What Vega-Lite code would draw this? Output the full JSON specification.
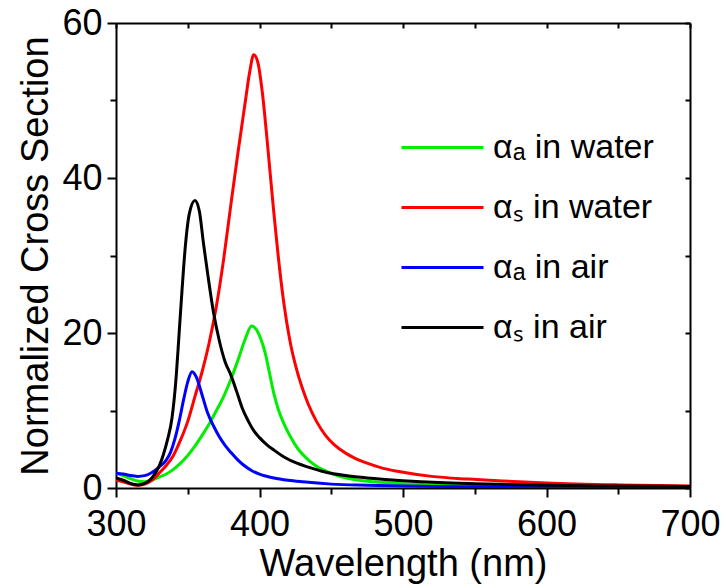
{
  "$schema": "https://vega.github.io/schema/vega-lite/v6.json",
  "width": 574,
  "height": 465,
  "autosize": "none",
  "padding": {"left": 116, "top": 23, "right": 35, "bottom": 100},
  "background": "white",
  "config": {
    "view": {"stroke": null},
    "font": "Liberation Sans",
    "axis": {"domainColor": "black", "domainWidth": 2, "tickColor": "black", "tickWidth": 2, "labelColor": "black", "titleColor": "black", "grid": false, "labelFont": "Liberation Sans", "titleFont": "Liberation Sans", "titleFontWeight": "normal"}
  },
  "datasets": {
    "curves": [
      {"wl":300,"v":1.9,"s":"αₐ in water"},{"wl":305,"v":1.6,"s":"αₐ in water"},{"wl":310,"v":1.2,"s":"αₐ in water"},{"wl":315,"v":0.9,"s":"αₐ in water"},{"wl":320,"v":0.8,"s":"αₐ in water"},{"wl":325,"v":1.0,"s":"αₐ in water"},{"wl":330,"v":1.4,"s":"αₐ in water"},{"wl":335,"v":1.8,"s":"αₐ in water"},{"wl":340,"v":2.4,"s":"αₐ in water"},{"wl":345,"v":3.2,"s":"αₐ in water"},{"wl":350,"v":4.2,"s":"αₐ in water"},{"wl":355,"v":5.4,"s":"αₐ in water"},{"wl":360,"v":6.8,"s":"αₐ in water"},{"wl":365,"v":8.3,"s":"αₐ in water"},{"wl":370,"v":10.0,"s":"αₐ in water"},{"wl":375,"v":11.8,"s":"αₐ in water"},{"wl":380,"v":14.0,"s":"αₐ in water"},{"wl":385,"v":16.5,"s":"αₐ in water"},{"wl":390,"v":19.2,"s":"αₐ in water"},{"wl":394.5,"v":20.9,"s":"αₐ in water"},{"wl":398,"v":20.4,"s":"αₐ in water"},{"wl":401,"v":19.2,"s":"αₐ in water"},{"wl":404,"v":17.4,"s":"αₐ in water"},{"wl":407,"v":14.8,"s":"αₐ in water"},{"wl":410,"v":12.2,"s":"αₐ in water"},{"wl":413,"v":10.2,"s":"αₐ in water"},{"wl":417,"v":8.3,"s":"αₐ in water"},{"wl":421,"v":6.8,"s":"αₐ in water"},{"wl":427,"v":5.0,"s":"αₐ in water"},{"wl":433,"v":3.8,"s":"αₐ in water"},{"wl":439,"v":2.9,"s":"αₐ in water"},{"wl":450,"v":1.9,"s":"αₐ in water"},{"wl":466,"v":1.1,"s":"αₐ in water"},{"wl":480,"v":0.8,"s":"αₐ in water"},{"wl":500,"v":0.55,"s":"αₐ in water"},{"wl":525,"v":0.35,"s":"αₐ in water"},{"wl":550,"v":0.25,"s":"αₐ in water"},{"wl":600,"v":0.15,"s":"αₐ in water"},{"wl":650,"v":0.1,"s":"αₐ in water"},{"wl":700,"v":0.08,"s":"αₐ in water"},

      {"wl":300,"v":1.0,"s":"αₛ in water"},{"wl":305,"v":0.8,"s":"αₛ in water"},{"wl":310,"v":0.5,"s":"αₛ in water"},{"wl":315,"v":0.35,"s":"αₛ in water"},{"wl":320,"v":0.5,"s":"αₛ in water"},{"wl":325,"v":1.0,"s":"αₛ in water"},{"wl":330,"v":1.9,"s":"αₛ in water"},{"wl":335,"v":2.9,"s":"αₛ in water"},{"wl":340,"v":4.2,"s":"αₛ in water"},{"wl":345,"v":6.2,"s":"αₛ in water"},{"wl":350,"v":8.6,"s":"αₛ in water"},{"wl":355,"v":11.8,"s":"αₛ in water"},{"wl":360,"v":15.0,"s":"αₛ in water"},{"wl":365,"v":18.8,"s":"αₛ in water"},{"wl":370,"v":23.5,"s":"αₛ in water"},{"wl":375,"v":29.5,"s":"αₛ in water"},{"wl":380,"v":36.5,"s":"αₛ in water"},{"wl":385,"v":43.3,"s":"αₛ in water"},{"wl":390,"v":49.7,"s":"αₛ in water"},{"wl":393,"v":53.5,"s":"αₛ in water"},{"wl":396,"v":55.9,"s":"αₛ in water"},{"wl":399,"v":54.8,"s":"αₛ in water"},{"wl":402,"v":51.0,"s":"αₛ in water"},{"wl":406,"v":43.5,"s":"αₛ in water"},{"wl":410,"v":35.5,"s":"αₛ in water"},{"wl":413,"v":30.0,"s":"αₛ in water"},{"wl":417,"v":23.8,"s":"αₛ in water"},{"wl":421,"v":19.2,"s":"αₛ in water"},{"wl":426,"v":15.2,"s":"αₛ in water"},{"wl":430,"v":12.8,"s":"αₛ in water"},{"wl":434,"v":10.8,"s":"αₛ in water"},{"wl":440,"v":8.5,"s":"αₛ in water"},{"wl":446,"v":6.8,"s":"αₛ in water"},{"wl":452,"v":5.6,"s":"αₛ in water"},{"wl":460,"v":4.5,"s":"αₛ in water"},{"wl":467,"v":3.8,"s":"αₛ in water"},{"wl":475,"v":3.2,"s":"αₛ in water"},{"wl":485,"v":2.6,"s":"αₛ in water"},{"wl":498,"v":2.1,"s":"αₛ in water"},{"wl":520,"v":1.5,"s":"αₛ in water"},{"wl":545,"v":1.15,"s":"αₛ in water"},{"wl":570,"v":0.9,"s":"αₛ in water"},{"wl":600,"v":0.65,"s":"αₛ in water"},{"wl":650,"v":0.4,"s":"αₛ in water"},{"wl":700,"v":0.25,"s":"αₛ in water"},

      {"wl":300,"v":1.9,"s":"αₐ in air"},{"wl":305,"v":1.8,"s":"αₐ in air"},{"wl":310,"v":1.6,"s":"αₐ in air"},{"wl":315,"v":1.5,"s":"αₐ in air"},{"wl":320,"v":1.6,"s":"αₐ in air"},{"wl":325,"v":2.0,"s":"αₐ in air"},{"wl":330,"v":2.7,"s":"αₐ in air"},{"wl":335,"v":3.6,"s":"αₐ in air"},{"wl":338,"v":4.6,"s":"αₐ in air"},{"wl":341,"v":6.3,"s":"αₐ in air"},{"wl":344,"v":8.6,"s":"αₐ in air"},{"wl":347,"v":11.3,"s":"αₐ in air"},{"wl":350,"v":13.7,"s":"αₐ in air"},{"wl":353,"v":15.0,"s":"αₐ in air"},{"wl":356,"v":14.3,"s":"αₐ in air"},{"wl":360,"v":12.0,"s":"αₐ in air"},{"wl":364,"v":9.6,"s":"αₐ in air"},{"wl":368,"v":8.0,"s":"αₐ in air"},{"wl":372,"v":6.6,"s":"αₐ in air"},{"wl":376,"v":5.5,"s":"αₐ in air"},{"wl":380,"v":4.6,"s":"αₐ in air"},{"wl":385,"v":3.6,"s":"αₐ in air"},{"wl":390,"v":2.8,"s":"αₐ in air"},{"wl":395,"v":2.2,"s":"αₐ in air"},{"wl":400,"v":1.8,"s":"αₐ in air"},{"wl":410,"v":1.3,"s":"αₐ in air"},{"wl":420,"v":1.0,"s":"αₐ in air"},{"wl":430,"v":0.8,"s":"αₐ in air"},{"wl":450,"v":0.5,"s":"αₐ in air"},{"wl":475,"v":0.35,"s":"αₐ in air"},{"wl":500,"v":0.25,"s":"αₐ in air"},{"wl":550,"v":0.15,"s":"αₐ in air"},{"wl":600,"v":0.1,"s":"αₐ in air"},{"wl":700,"v":0.05,"s":"αₐ in air"},

      {"wl":300,"v":1.3,"s":"\u2002αₛ in air"},{"wl":305,"v":1.0,"s":"\u2002αₛ in air"},{"wl":310,"v":0.6,"s":"\u2002αₛ in air"},{"wl":315,"v":0.4,"s":"\u2002αₛ in air"},{"wl":320,"v":0.6,"s":"\u2002αₛ in air"},{"wl":325,"v":1.3,"s":"\u2002αₛ in air"},{"wl":330,"v":2.8,"s":"\u2002αₛ in air"},{"wl":333,"v":4.3,"s":"\u2002αₛ in air"},{"wl":336,"v":6.3,"s":"\u2002αₛ in air"},{"wl":339,"v":9.0,"s":"\u2002αₛ in air"},{"wl":342,"v":14.5,"s":"\u2002αₛ in air"},{"wl":344,"v":20.0,"s":"\u2002αₛ in air"},{"wl":346,"v":25.5,"s":"\u2002αₛ in air"},{"wl":348,"v":30.5,"s":"\u2002αₛ in air"},{"wl":351,"v":35.3,"s":"\u2002αₛ in air"},{"wl":355,"v":37.1,"s":"\u2002αₛ in air"},{"wl":358,"v":35.8,"s":"\u2002αₛ in air"},{"wl":361,"v":31.5,"s":"\u2002αₛ in air"},{"wl":364,"v":27.5,"s":"\u2002αₛ in air"},{"wl":368,"v":22.6,"s":"\u2002αₛ in air"},{"wl":372,"v":19.0,"s":"\u2002αₛ in air"},{"wl":376,"v":16.3,"s":"\u2002αₛ in air"},{"wl":380,"v":14.6,"s":"\u2002αₛ in air"},{"wl":384,"v":12.5,"s":"\u2002αₛ in air"},{"wl":388,"v":10.3,"s":"\u2002αₛ in air"},{"wl":392,"v":8.7,"s":"\u2002αₛ in air"},{"wl":396,"v":7.4,"s":"\u2002αₛ in air"},{"wl":400,"v":6.5,"s":"\u2002αₛ in air"},{"wl":405,"v":5.6,"s":"\u2002αₛ in air"},{"wl":410,"v":4.9,"s":"\u2002αₛ in air"},{"wl":418,"v":3.9,"s":"\u2002αₛ in air"},{"wl":426,"v":3.2,"s":"\u2002αₛ in air"},{"wl":434,"v":2.7,"s":"\u2002αₛ in air"},{"wl":445,"v":2.1,"s":"\u2002αₛ in air"},{"wl":460,"v":1.6,"s":"\u2002αₛ in air"},{"wl":475,"v":1.3,"s":"\u2002αₛ in air"},{"wl":500,"v":0.95,"s":"\u2002αₛ in air"},{"wl":525,"v":0.7,"s":"\u2002αₛ in air"},{"wl":550,"v":0.55,"s":"\u2002αₛ in air"},{"wl":600,"v":0.35,"s":"\u2002αₛ in air"},{"wl":650,"v":0.25,"s":"\u2002αₛ in air"},{"wl":700,"v":0.2,"s":"\u2002αₛ in air"}
    ]
  },
  "data": {"name": "curves"},
  "layer": [
    {
      "mark": {"type": "line", "strokeWidth": 3, "interpolate": "monotone", "clip": true},
      "encoding": {
        "x": {
          "field": "wl", "type": "quantitative",
          "scale": {"domain": [300, 700], "nice": false, "zero": false},
          "axis": {
            "orient": "bottom", "title": "Wavelength (nm)", "titleFontSize": 38, "titlePadding": 3,
            "values": [300, 350, 400, 450, 500, 550, 600, 650, 700],
            "labelExpr": "datum.value % 100 === 0 ? datum.label : ''",
            "labelFontSize": 36, "labelPadding": 10, "labelFlush": false,
            "tickSize": {"condition": {"test": "datum.value % 100 === 0", "value": 9}, "value": 6}
          }
        },
        "y": {
          "field": "v", "type": "quantitative",
          "scale": {"domain": [0, 60], "nice": false},
          "axis": {
            "orient": "left", "title": "Normalized Cross Section", "titleFontSize": 38, "titlePadding": 6,
            "values": [0, 10, 20, 30, 40, 50, 60],
            "labelExpr": "datum.value % 20 === 0 ? datum.label : ''",
            "labelFontSize": 36, "labelPadding": 5, "labelFlush": false,
            "tickSize": {"condition": {"test": "datum.value % 20 === 0", "value": 9}, "value": 6}
          }
        },
        "color": {
          "field": "s", "type": "nominal",
          "scale": {"domain": ["αₐ in water", "αₛ in water", "αₐ in air", "\u2002αₛ in air"], "range": ["#00ee00", "#ff0000", "#0000ff", "#000000"]},
          "legend": {
            "title": null, "orient": "none", "legendX": 284, "legendY": 82, "padding": 0,
            "symbolType": "stroke", "symbolSize": 6724, "symbolStrokeWidth": 3,
            "labelFontSize": 34, "labelFont": "Liberation Sans", "labelColor": "black", "labelOffset": 8,
            "rowPadding": -5.5, "labelLimit": 400
          }
        }
      }
    },
    {
      "mark": {"type": "line", "opacity": 0},
      "encoding": {
        "x": {
          "field": "wl", "type": "quantitative",
          "axis": {"orient": "top", "title": null, "labels": false, "values": [300, 350, 400, 450, 500, 550, 600, 650, 700], "tickSize": -5}
        },
        "y": {
          "field": "v", "type": "quantitative",
          "axis": {"orient": "right", "title": null, "labels": false, "values": [0, 10, 20, 30, 40, 50, 60], "tickSize": -5}
        }
      }
    }
  ],
  "resolve": {"axis": {"x": "independent", "y": "independent"}}
}
